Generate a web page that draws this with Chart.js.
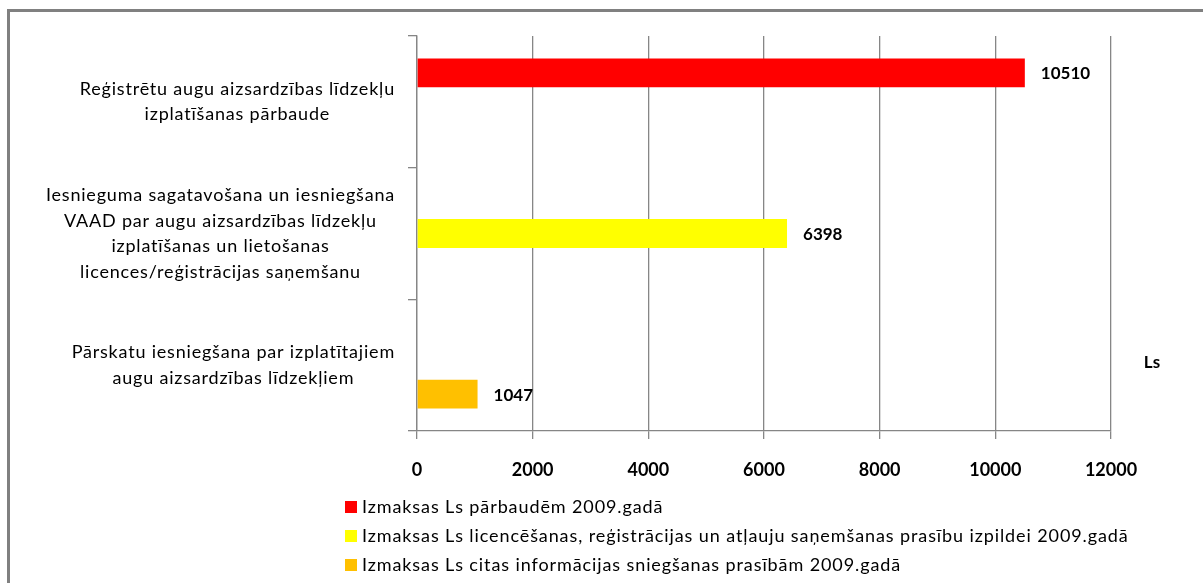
<!DOCTYPE html>
<html>
<head>
<meta charset="utf-8">
<script src="https://cdn.jsdelivr.net/npm/chart.js@4.4.1/dist/chart.umd.min.js"></script>
<style>
    html, body { margin: 0; padding: 0; background: #fff; overflow: hidden; }
    #wrap { position: relative; width: 1203px; height: 583px; }
    #frame {
        position: absolute;
        left: 7px;
        top: 9px;
        width: 1300px;
        height: 700px;
        border: 3px solid #808080;
        pointer-events: none;
    }
    canvas { position: absolute; left: 0; top: 0; }
</style>
</head>
<body>
<div id="wrap">
    <canvas id="costChart" width="1203" height="583"></canvas>
    <div id="frame"></div>
</div>
<script>
// Category labels (already broken into lines as in the original)
const categories = [
    ['Reģistrētu augu aizsardzības līdzekļu', 'izplatīšanas pārbaude'],
    ['Iesnieguma sagatavošana un iesniegšana', 'VAAD par augu aizsardzības līdzekļu',
     'izplatīšanas un lietošanas', 'licences/reģistrācijas saņemšanu'],
    ['Pārskatu iesniegšana par izplatītajiem', 'augu aizsardzības līdzekļiem']
];

const seriesNames = [
    'Izmaksas Ls pārbaudēm 2009.gadā',
    'Izmaksas Ls licencēšanas, reģistrācijas un atļauju saņemšanas prasību izpildei 2009.gadā',
    'Izmaksas Ls citas informācijas sniegšanas prasībām 2009.gadā'
];

// One value per series, each in its own category
const inspectionCosts = [10510, null, null];
const licensingCosts = [null, 6398, null];
const reportingCosts = [null, null, 1047];

const seriesColors = ['#FF0000', '#FFFF00', '#FFC000'];

// Value axis ticks
const xTickValues = [0, 2000, 4000, 6000, 8000, 10000, 12000];
const unitLabel = 'Ls';

const GRID_COLOR = '#868686';
const TEXT_FONT = 'Lato, "Open Sans", sans-serif';

/**
 * Draws the wrapped category labels: each block right-aligned to the axis,
 * lines centered inside the block
 */
const categoryLabelPlugin = {
    id: 'categoryLabels',
    afterDraw(chart) {
        const { ctx, chartArea } = chart;
        const yScale = chart.scales.y;
        const lineHeight = 25.5;
        ctx.save();
        ctx.font = `18px ${TEXT_FONT}`;
        ctx.letterSpacing = '0.8px';
        ctx.fillStyle = '#000';
        ctx.textAlign = 'center';
        ctx.textBaseline = 'middle';
        categories.forEach((lines, i) => {
            const blockWidth = Math.max(...lines.map(l => ctx.measureText(l).width));
            const centerX = chartArea.left - 22 - blockWidth / 2;
            const centerY = yScale.getPixelForValue(i);
            const firstY = centerY - (lines.length - 1) * lineHeight / 2;
            lines.forEach((line, j) => {
                ctx.fillText(line, centerX, firstY + j * lineHeight);
            });
        });
        ctx.restore();
    }
};

/**
 * Value labels to the right of each bar, plus the "Ls" unit caption
 */
const valueLabelPlugin = {
    id: 'valueLabels',
    afterDatasetsDraw(chart) {
        const { ctx, chartArea } = chart;
        ctx.save();
        ctx.font = `bold 17px ${TEXT_FONT}`;
        ctx.fillStyle = '#000';
        ctx.textAlign = 'left';
        ctx.textBaseline = 'middle';
        chart.data.datasets.forEach((ds, di) => {
            const meta = chart.getDatasetMeta(di);
            meta.data.forEach((bar, idx) => {
                const v = ds.data[idx];
                if (v === null || v === undefined) return;
                ctx.fillText(String(v), bar.x + 16, bar.y + 1);
            });
        });

        // Unit caption at the right of the plot
        ctx.textAlign = 'center';
        ctx.fillText(unitLabel, chartArea.right + 41, chartArea.bottom - 68);
        ctx.restore();
    }
};

/**
 * Legend drawn as a left-aligned column under the axis
 */
const legendPlugin = {
    id: 'columnLegend',
    afterDraw(chart) {
        const { ctx, chartArea } = chart;
        const boxSize = 12;
        const rowGap = 29;
        const startY = chartArea.bottom + 76;
        const boxX = chartArea.left - 72;
        ctx.save();
        ctx.font = `18px ${TEXT_FONT}`;
        ctx.letterSpacing = '0.9px';
        ctx.textAlign = 'left';
        ctx.textBaseline = 'middle';
        chart.data.datasets.forEach((ds, i) => {
            const y = startY + i * rowGap;
            ctx.fillStyle = ds.backgroundColor;
            ctx.fillRect(boxX, y - boxSize / 2, boxSize, boxSize);
            ctx.fillStyle = '#000';
            ctx.fillText(ds.label, boxX + 17, y);
        });
        ctx.restore();
    }
};

const datasets = [inspectionCosts, licensingCosts, reportingCosts].map((values, i) => ({
    label: seriesNames[i],
    data: values,
    backgroundColor: seriesColors[i],
    borderWidth: 0,
    categoryPercentage: 0.66,
    barPercentage: 1.0
}));

new Chart(document.getElementById('costChart').getContext('2d'), {
    type: 'bar',
    data: {
        labels: categories.map(lines => lines.join(' ')),
        datasets: datasets
    },
    options: {
        indexAxis: 'y',
        responsive: false,
        animation: false,
        layout: {
            padding: { top: 36, right: 92, bottom: 92, left: 0 }
        },
        plugins: {
            legend: { display: false },
            tooltip: { enabled: false }
        },
        scales: {
            x: {
                min: xTickValues[0],
                max: xTickValues[xTickValues.length - 1],
                afterBuildTicks: (scale) => {
                    scale.ticks = xTickValues.map(v => ({ value: v }));
                },
                afterFit: (scale) => { scale.height = 60; },
                grid: {
                    color: GRID_COLOR,
                    lineWidth: 1.3,
                    tickLength: 8
                },
                border: { color: GRID_COLOR, width: 1.3 },
                ticks: {
                    padding: 20,
                    color: '#000',
                    font: { family: TEXT_FONT, size: 18, weight: 'bold' },
                    callback: (value) => String(value)
                }
            },
            y: {
                afterFit: (scale) => { scale.width = 417; },
                grid: {
                    offset: true,
                    drawOnChartArea: false,
                    color: GRID_COLOR,
                    lineWidth: 1.3,
                    tickLength: 9
                },
                border: { color: GRID_COLOR, width: 1.3 },
                ticks: { display: false }
            }
        }
    },
    plugins: [categoryLabelPlugin, valueLabelPlugin, legendPlugin]
});
</script>
</body>
</html>
